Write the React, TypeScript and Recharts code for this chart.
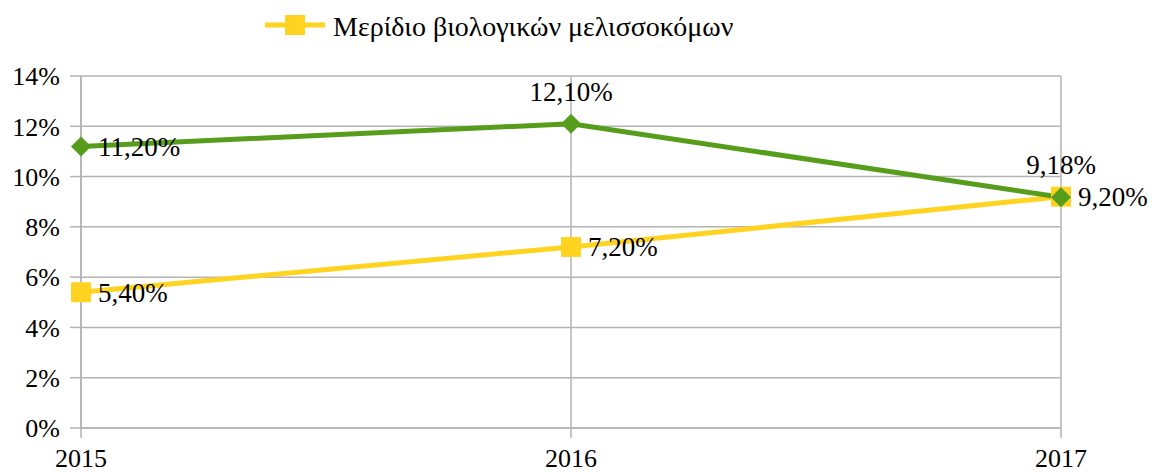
import {
  CartesianGrid,
  LabelList,
  Legend,
  Line,
  LineChart,
  XAxis,
  YAxis,
} from 'recharts';

const years = ['2015', '2016', '2017'];
const organicShare = [5.4, 7.2, 9.2];
const otherShare = [11.2, 12.1, 9.18];
const yTicks = [0, 2, 4, 6, 8, 10, 12, 14];
const organicName = 'Μερίδιο βιολογικών μελισσοκόμων';

const data = years.map((year, i) => ({
  year,
  organic: organicShare[i],
  other: otherShare[i],
}));

const FONT = 'Liberation Serif, DejaVu Serif, serif';
const GRID = '#b3b3b3';
const YELLOW = '#ffd320';
const GREEN = '#579d1c';

const fmt = (v: number) => v.toFixed(2).replace('.', ',') + '%';

// where each point's label goes
const makeLabel = (placement: string[]) => (props: any) => {
  const { x, y, value, index } = props;
  if (placement[index] === 'top') {
    return (
      <text x={x} y={y - 23} textAnchor="middle" fontSize={27} style={{ fontFamily: FONT }} fill="#000">
        {fmt(value)}
      </text>
    );
  }
  return (
    <text x={x + 17} y={y} dy="0.35em" textAnchor="start" fontSize={27} style={{ fontFamily: FONT }} fill="#000">
      {fmt(value)}
    </text>
  );
};

const Square = (props: any) => {
  const { cx, cy } = props;
  return <rect x={cx - 10} y={cy - 10} width={20} height={20} fill={YELLOW} />;
};

const Diamond = (props: any) => {
  const { cx, cy } = props;
  return (
    <polygon
      points={`${cx},${cy - 10} ${cx + 10},${cy} ${cx},${cy + 10} ${cx - 10},${cy}`}
      fill={GREEN}
    />
  );
};

const LegendContent = (props: any) => {
  const items = (props.payload || []).filter((p: any) => p.type !== 'none');
  return (
    <svg width={1161} height={50} style={{ display: 'block' }}>
      {items.map((item: any) => (
        <g key={item.value}>
          <line x1={265} y1={25} x2={325} y2={25} stroke={YELLOW} strokeWidth={5} />
          <rect x={285} y={15} width={20} height={20} fill={YELLOW} />
          <text x={333} y={26} dy="0.35em" fontSize={28} style={{ fontFamily: FONT }} fill="#000">
            {item.value}
          </text>
        </g>
      ))}
    </svg>
  );
};

export default function App() {
  return (
    <div style={{ position: 'absolute', left: 0, top: 0, background: '#fff', fontFamily: FONT }}>
      <LineChart
        width={1161}
        height={472}
        data={data}
        margin={{ top: 26, right: 100, bottom: 0, left: 0 }}
        style={{ fontFamily: FONT }}
      >
        <CartesianGrid stroke={GRID} strokeWidth={1.5} />
        <XAxis
          dataKey="year"
          height={44}
          padding={{ left: 0, right: 0 }}
          axisLine={{ stroke: GRID, strokeWidth: 1.5 }}
          tickLine={{ stroke: GRID, strokeWidth: 1.5 }}
          tickSize={10}
          tickMargin={11}
          tick={{ fontSize: 26, fontFamily: FONT, fill: '#000' }}
        />
        <YAxis
          width={81}
          domain={[0, 14]}
          ticks={yTicks}
          interval={0}
          tickFormatter={(v: number) => `${v}%`}
          axisLine={{ stroke: GRID, strokeWidth: 1.5 }}
          tickLine={{ stroke: GRID, strokeWidth: 1.5 }}
          tickSize={11}
          tickMargin={10}
          tick={{ fontSize: 26, fontFamily: FONT, fill: '#000' }}
        />
        <Legend
          verticalAlign="top"
          height={50}
          content={<LegendContent />}
          wrapperStyle={{ top: 0, left: 0, width: 1161, height: 50 }}
        />
        <Line
          dataKey="organic"
          name={organicName}
          stroke={YELLOW}
          strokeWidth={5}
          dot={<Square />}
          activeDot={false}
          isAnimationActive={false}
        >
          <LabelList dataKey="organic" content={makeLabel(['right', 'right', 'right'])} />
        </Line>
        <Line
          dataKey="other"
          name="other"
          legendType="none"
          stroke={GREEN}
          strokeWidth={5}
          dot={<Diamond />}
          activeDot={false}
          isAnimationActive={false}
        >
          <LabelList dataKey="other" content={makeLabel(['right', 'top', 'top'])} />
        </Line>
      </LineChart>
    </div>
  );
}
